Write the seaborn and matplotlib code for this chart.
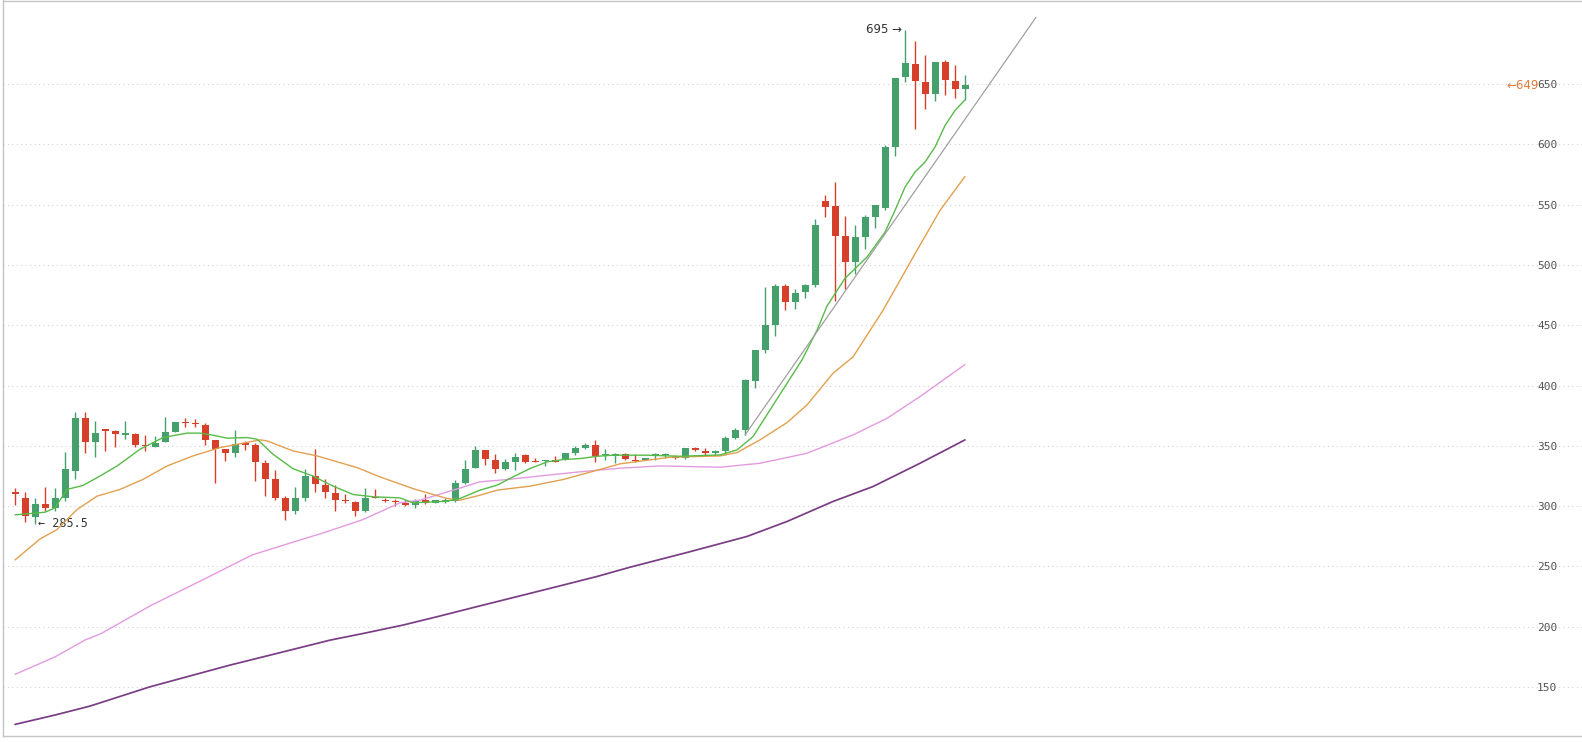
import numpy as np
import pandas as pd
import matplotlib
matplotlib.use("Agg")
import matplotlib.pyplot as plt
import seaborn as sns

# candles (one per day)
opens = [312, 306.7, 290.8, 302.2, 298.3, 307.2, 329.2, 373, 353.3, 363.9,
         362.2, 359.4, 360, 350.6, 349.2, 353, 361.7, 369.7, 368.6, 367.5,
         355, 347.2, 343.9, 352.8, 350.6, 336.1, 322.2, 306.9, 295.8, 306.4,
         325, 317.8, 311.1, 304.7, 303.6, 295.8, 306.9, 305.5, 304.4, 302.8,
         301.1, 305, 302.8, 303.8, 304.4, 319.3, 331.8, 346.4, 338.7, 331,
         336.5, 342.5, 337, 337.6, 338.7, 338.1, 344.2, 348.6, 350.6, 342.2,
         342, 343.4, 338.7, 338.1, 342.3, 342.3, 340.3, 339.8, 348, 345.9,
         344.5, 345.9, 356.6, 363, 403.9, 429.3, 450, 482.3, 469.3, 477.6,
         483.1, 552.8, 548.6, 523.8, 502.5, 523.2, 539.8, 547.5, 597.8, 655.8,
         666.9, 652.2, 642, 668, 652.8, 645.9]
highs = [315.3, 312, 306.4, 315.8, 315.3, 345, 377.8, 377.8, 370.8, 363.9,
         363.3, 370.8, 360.6, 358.9, 357.8, 374.2, 369.7, 372.8, 372.2, 368.6,
         355, 347.2, 363, 354.2, 352.8, 338, 329.7, 308.3, 316.1, 330.6,
         347.2, 322.2, 317.2, 309.7, 304.2, 315.3, 314.4, 307, 306, 305,
         306, 310, 305, 306.9, 321.5, 338.1, 349.7, 347, 343.1, 339.2,
         344.5, 343, 340.3, 338.7, 341.4, 344.5, 349.7, 352.2, 354.7, 347.8,
         343.9, 344.5, 343.1, 339.8, 344.5, 343.9, 342.5, 348, 349.2, 348,
         347, 358, 365.2, 405.8, 429.3, 482, 484.5, 484.5, 480.4, 484.5,
         538.4, 557.7, 568.8, 540.3, 532.9, 541.2, 549.4, 599.7, 655.2, 695.3,
         685.4, 674.6, 668.2, 670.2, 666.3, 658]
lows = [300.6, 286.7, 285.5, 295.8, 295.8, 304.2, 322.8, 343.9, 340.8, 345.8,
        349.2, 355.6, 348.9, 345.8, 349.2, 353, 361.7, 365.3, 365.3, 350.8,
        319.4, 337.5, 340.8, 346.4, 320.8, 308.3, 305, 288.3, 293.6, 304.2,
        311.7, 306.9, 295.8, 302.8, 291.7, 295, 306.4, 303.5, 300, 300,
        298.5, 302.2, 302.8, 303, 303.6, 318.8, 331.8, 334.5, 327.6, 329.8,
        330.4, 336, 336.5, 333.7, 336.5, 338.1, 342.8, 347.5, 336.7, 338.7,
        335.9, 338.7, 337, 338.1, 338.7, 339.8, 339.2, 339.2, 345.9, 342.3,
        342.8, 342.3, 355.8, 358.8, 398.3, 427, 440.9, 462.4, 463.8, 472.9,
        481.8, 539.8, 470, 480.4, 492.8, 513, 530.7, 545.3, 590.3, 651.7,
        613, 629.3, 635.9, 641.2, 638.4, 637]
closes = [310, 291.7, 302.2, 298.3, 307.2, 330.6, 373, 353.3, 360.6, 362.2,
          360, 360, 350.6, 350, 352.8, 361.4, 369.7, 369.2, 368, 355,
          347.8, 343.9, 351.9, 350.8, 336.9, 322.8, 306.9, 295.8, 306.4, 325,
          318.6, 311.9, 305, 303.9, 295.8, 306.9, 306.4, 304.1, 303.3, 301.1,
          304.4, 302.8, 305, 304.4, 319.3, 331.2, 346.4, 339.2, 331.2, 336.5,
          340.6, 336.5, 336.5, 338.7, 337, 343.9, 348, 350.6, 341.4, 342.8,
          343.4, 339.2, 337.6, 339.8, 342.8, 342.8, 339.8, 348, 346.4, 344.2,
          345.9, 356.4, 363, 404.4, 429.3, 450, 482.3, 469.3, 477, 483.7,
          532.9, 548.1, 524, 502.5, 523.2, 539.8, 549.4, 598.3, 655.2, 667.7,
          652.5, 642, 668, 653.6, 645.9, 649]

# moving averages, read at points along each line (x = candle index)
ma_fast_x = [0, 3, 4, 5.2, 6.8, 8.5, 10.2, 12.5, 14.8, 17.2, 18.5, 19.8, 21.2, 23.2,
             24.2, 25.8, 27.8, 29.8, 31.8, 33.8, 35.8, 38.5, 39.8, 43.2, 44.5, 46.5,
             48.2, 49.8, 51.5, 53.2, 54.8, 56.5, 58.2, 59.8, 63.2, 66.5, 70.5, 72.2,
             73.8, 75.5, 77.2, 78.7, 80.2, 81.2, 83, 85.2, 87, 88, 89, 90, 91, 92,
             93, 94, 95]
ma_fast_y = [292.8, 295, 298.6, 313.9, 317.2, 325, 333.3, 347.2, 356.9, 360.6, 360.6,
             358.9, 356.4, 356.9, 355.6, 343.1, 331.1, 325, 316.7, 309.7, 307.8, 306.9,
             302.8, 304.1, 306.4, 313.3, 317.4, 324.3, 331.2, 336.7, 338.7, 339.5,
             341.4, 342.3, 342.3, 341.4, 342.5, 346.7, 357.7, 379.8, 401.9, 421.3,
             445.9, 466, 489, 506.6, 527.3, 545.3, 564.6, 577.1, 585.4, 597.8, 615.7,
             628.2, 637]
ma_mid_x = [0, 2.5, 4.2, 6.2, 8.2, 10.5, 12.8, 15.2, 17.8, 20.5, 24.5, 25.2, 27.8,
            30.2, 34.2, 36.5, 39.8, 43.2, 44.5, 46.5, 48.2, 51.5, 54.8, 58.2, 60.5,
            65.5, 70.5, 72.2, 74.5, 77.2, 79.2, 81.8, 83.8, 86.8, 88.5, 90.2, 92.5, 95]
ma_mid_y = [255.4, 272.8, 280.6, 297.2, 308.3, 313.9, 322.2, 333.3, 341.7, 348.6, 355,
            354.2, 345.8, 341.7, 332, 324.3, 314.6, 306.4, 305, 309.1, 313.3, 316.6,
            322.1, 329.8, 335.1, 340.6, 341.7, 344.5, 355, 369.3, 384, 410.2, 423.8,
            462.4, 487.3, 512.2, 545.3, 573.5]
ma_slow_x = [0, 4, 7, 8.6, 13.6, 18.7, 23.7, 27.5, 30.8, 34.8, 38.5, 40.5, 43.5, 46.5,
             49.2, 53.2, 56.5, 60.5, 64.5, 70.5, 74.5, 79.2, 83.8, 87.2, 90.5, 95]
ma_slow_y = [160.5, 175, 189, 194.3, 217.7, 238.6, 259.5, 269.4, 277.8, 288.9, 302.8,
             305, 312.5, 320.2, 322.1, 325.7, 328.5, 331.5, 333.4, 332.3, 335.6, 343.9,
             359.1, 372.9, 390.9, 417.5]
ma_long_x = [0, 4, 7.5, 13.5, 21.5, 27.5, 31.5, 34.8, 38.8, 42.2, 46.2, 50.2, 54.2,
             58.2, 61.5, 67.2, 73.2, 77.2, 81.8, 85.8, 90.5, 95]
ma_long_y = [119, 126.8, 134.2, 150.2, 168.2, 180.6, 188.9, 194.4, 201.4, 208.3, 216.7,
             225, 233.3, 241.7, 249.4, 261.6, 274.9, 287.3, 303.9, 316.3, 335.6, 355]

# trend line drawn on the chart
trend_x = [73, 102.1]
trend_y = [359, 705.5]

yticks = [150, 200, 250, 300, 350, 400, 450, 500, 550, 600, 650]

GREEN = "#45a06c"
RED = "#d6402a"

sns.set_style("white")

fig = plt.figure(figsize=(15.82, 7.42), dpi=100)
ax = fig.add_axes([3 / 1582, 1 - 736 / 742, 1 - 3 / 1582, 735.5 / 742])

df = pd.DataFrame({"open": opens, "high": highs, "low": lows, "close": closes})
df["x"] = np.arange(len(df))
up = df["close"] >= df["open"]
colors = np.where(up, GREEN, RED)
body_low = df[["open", "close"]].min(axis=1)
body_h = (df["close"] - df["open"]).abs().clip(lower=1.0)

ax.vlines(df["x"], df["low"], df["high"], colors=colors, linewidth=1, zorder=3)
ax.bar(df["x"], body_h, bottom=body_low, width=0.7, color=colors, linewidth=0, zorder=4)

lines = [
    (ma_long_x, ma_long_y, "#7a3d84", 1.25),
    (ma_slow_x, ma_slow_y, "#e29be0", 1.0),
    (ma_mid_x, ma_mid_y, "#e2a04f", 1.0),
    (ma_fast_x, ma_fast_y, "#57bb47", 1.0),
    (trend_x, trend_y, "#a0a0a0", 0.9),
]
for xs, ys, c, lw in lines:
    sns.lineplot(x=xs, y=ys, ax=ax, color=c, linewidth=lw, zorder=5)

ax.set_xlim(-1.2, 156.7)
ax.set_ylim(109.4, 719.4)
ax.set_yticks(yticks)
ax.set_xticks([])
ax.yaxis.tick_right()
ax.tick_params(axis="y", length=0, pad=-45 * 72 / 100, labelsize=8, labelcolor="#555555")
for lab in ax.get_yticklabels():
    lab.set_fontfamily("DejaVu Sans Mono")
ax.grid(axis="y", color="#d2d2d2", linestyle=(0, (1, 3)), linewidth=0.8)
ax.set_axisbelow(True)

for side in ["left", "bottom", "top"]:
    ax.spines[side].set_color("#c4c4c4")
    ax.spines[side].set_linewidth(1)
ax.spines["right"].set_visible(False)

# low / high / last price notes
lo_i = int(np.argmin(lows))
hi_i = int(np.argmax(highs))
ax.annotate(f"\u2190 {lows[lo_i]}", xy=(lo_i, lows[lo_i]), xytext=(2, 0),
            textcoords="offset points", ha="left", va="center", fontsize=8.5,
            family="DejaVu Sans Mono", color="#333333")
ax.annotate(f"{highs[hi_i]:.0f} \u2192", xy=(hi_i, highs[hi_i]), xytext=(-2, 0),
            textcoords="offset points", ha="right", va="center", fontsize=8.5,
            family="DejaVu Sans", color="#333333")
ax.text(1506 / 1582, closes[-1], f"\u2190{closes[-1]:.0f}",
        transform=ax.get_yaxis_transform(), ha="left", va="center",
        fontsize=8.5, color="#e07b39")

ax.set_xlabel("")
ax.set_ylabel("")
fig.savefig("out.png", dpi=100)
